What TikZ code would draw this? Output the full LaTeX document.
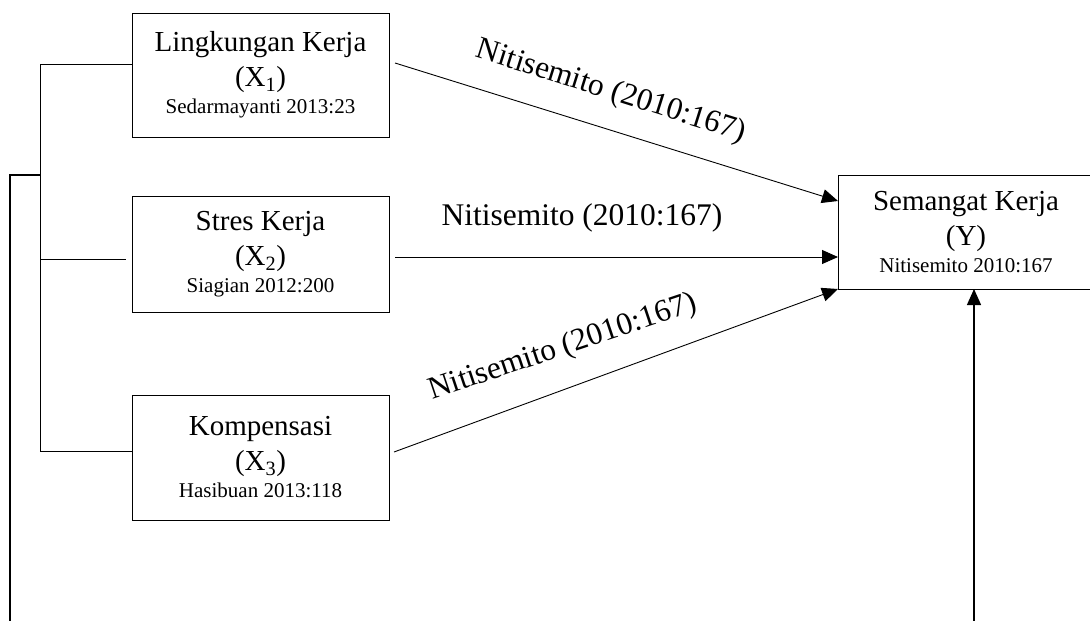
\documentclass[tikz,border=0pt]{standalone}
\usepackage{fontspec}
\setmainfont{Liberation Serif}
\usepackage{tikz}
\usetikzlibrary{shapes,arrows.meta}
\usetikzlibrary{positioning}

\newcommand{\srcfont}{\fontsize{21}{25}\selectfont}

\begin{document}
\begin{tikzpicture}[x=1pt, y=-1pt,
			block/.style={
					rectangle,
					draw,
					line width=1pt,
					minimum width=257pt,
					align=center,
					inner sep=0pt,
					outer sep=0pt,
					font=\fontsize{29}{35}\selectfont
				},
			cite/.style={font=\fontsize{31.5}{36}\selectfont, inner sep=0pt},
			line/.style={draw, line width=0.9pt},
			arrow/.style={line, -{Triangle[length=16pt,width=14pt]}}
		]
		\useasboundingbox (0,0) rectangle (1090,621);
		% Place nodes
		\node [block, minimum height=124pt] (x1) at (260.5,75) {Lingkungan Kerja\\(X\textsubscript{1})\\[-8pt]{\srcfont Sedarmayanti 2013:23}};
		\node [block, minimum height=116pt, below=59pt of x1] (x2) {Stres Kerja\\(X\textsubscript{2})\\[-8pt]{\srcfont Siagian 2012:200}};
		\node [block, minimum height=125pt, below=83pt of x2] (x3) {Kompensasi\\(X\textsubscript{3})\\[-8pt]{\srcfont Hasibuan 2013:118}};
		\node [block, minimum width=256pt, minimum height=114pt] (y) at (966,232) {Semangat Kerja\\(Y)\\[-8pt]{\srcfont Nitisemito 2010:167}};
		% Labels on the edges
		\node [cite, rotate=-17.5] (c1) at (611,92) {Nitisemito (2010:167)};
		\node [cite] (c2) at (582,217.5) {Nitisemito (2010:167)};
		\node [cite, rotate=18.5] (c3) at (563,348) {Nitisemito (2010:167)};
		% Bracket points
		\coordinate (b1) at (40,64);
		\coordinate (b2) at (40,259);
		\coordinate (b3) at (40,451);
		\coordinate (bm) at (40,175);
		\coordinate (o1) at (10,175);
		\coordinate (o2) at (10,621);
		\coordinate (yb) at (974,621);
		% Draw edges
		\path [line] (b1) -- (b3);
		\path [line] (b1) -- (b1 -| x1.west);
		\path [line] (b2) -- ([xshift=-6pt]b2 -| x2.west);
		\path [line] (b3) -- (b3 -| x3.west);
		\path [line, line width=1.4pt] (bm) -- (o1) -- (o2);
		\path [arrow] ([shift={(6,-12)}]x1.east) -- ([shift={(0,-31)}]y.west);
		\path [arrow] ([shift={(6,3)}]x2.east) -- ([shift={(0,25)}]y.west);
		\path [arrow] ([shift={(5,-5.5)}]x3.east) -- (y.south west);
		\path [arrow, line width=1.4pt] (yb) -- (yb |- y.south);
	\end{tikzpicture}
\end{document}
